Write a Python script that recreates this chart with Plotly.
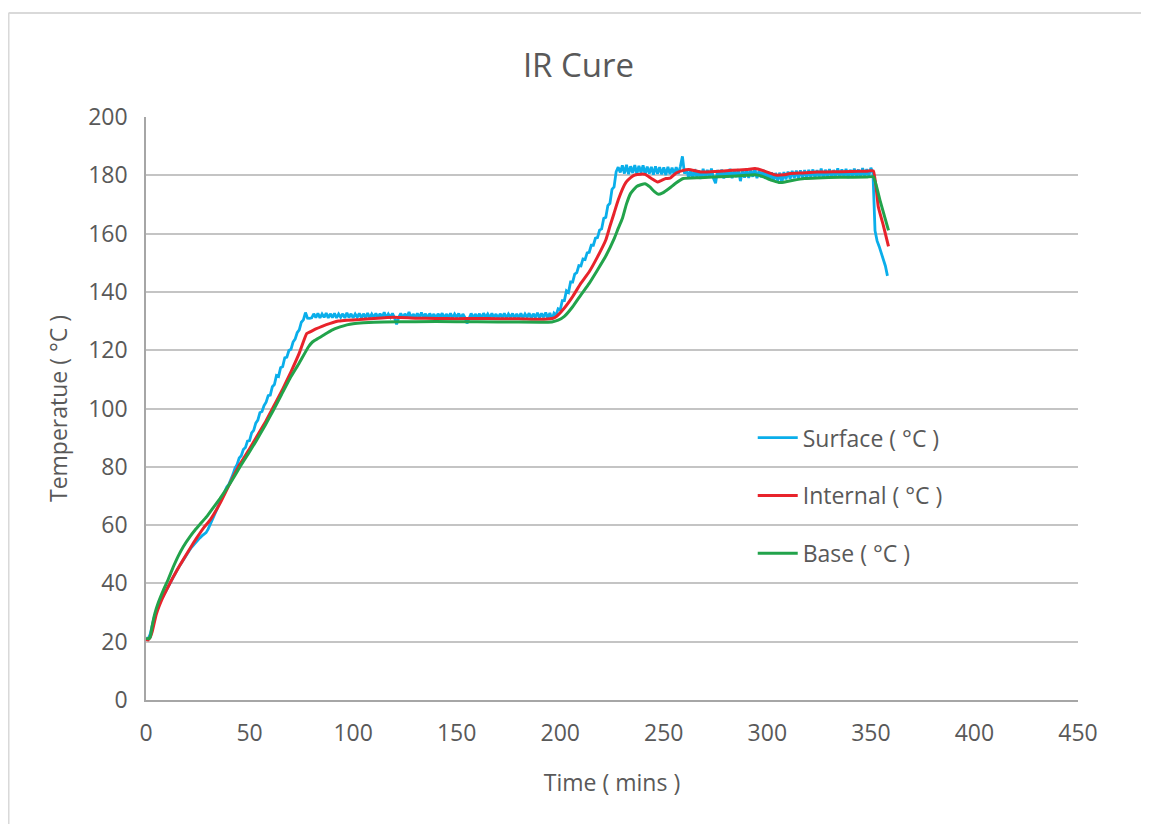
import plotly.graph_objects as go

# ---------------- data ----------------
surface_t = list(range(0, 359))
surface_v = [
    21, 21, 22.5, 26, 28.5, 30.5, 32.5, 34, 35.2, 36.6,
    38, 39.3, 40.6, 42, 43.4, 44.6, 45.8, 47, 48.2, 49.3,
    50.4, 51.4, 52.4, 53.3, 54.1, 54.9, 55.6, 56.3, 56.8, 57.4,
    58.6, 60.2, 61.8, 63.5, 65.2, 66.9, 68.5, 70.1, 71.6, 73.1,
    74, 75.6, 77.4, 79.6, 80.8, 83.0, 83.8, 85.9, 86.6, 88.8,
    89.0, 91.6, 92.5, 95.0, 96.0, 98.6, 99.0, 101.0, 102.2, 104.4,
    104.6, 107.5, 108.2, 111.3, 111.0, 114.0, 114.4, 117.4, 117.6, 119.9,
    120.3, 122.8, 123.8, 126.0, 127.0, 129.6, 130.4, 132.9, 131.0, 130.9,
    131.1, 132.5, 131.2, 132.6, 131.1, 132.4, 131.3, 132.7, 131.1, 132.5,
    131.2, 132.6, 131.1, 132.4, 131.3, 132.5, 131.1, 132.8, 131.2, 132.5,
    131.1, 132.4, 131.3, 132.6, 131.1, 132.5, 131.2, 132.7, 131.1, 132.4,
    131.3, 132.6, 131.1, 132.5, 131.2, 133.0, 131.1, 132.4, 131.3, 132.6,
    131.1, 128.9, 131.2, 132.6, 131.1, 132.5, 131.3, 133.1, 131.0, 132.4,
    131.2, 132.6, 131.1, 132.9, 131.2, 132.5, 131.0, 132.6, 131.2, 132.4,
    131.1, 132.5, 131.3, 132.7, 131.0, 132.4, 131.2, 132.6, 131.1, 132.4,
    131.3, 132.6, 131.0, 132.4, 131.2, 129.2, 131.2, 132.6, 131.1, 132.4,
    131.2, 132.5, 131.0, 132.7, 131.3, 132.4, 131.1, 132.6, 131.2, 132.4,
    131.0, 132.5, 131.2, 132.6, 131.1, 132.4, 131.3, 132.6, 131.0, 132.5,
    131.1, 132.6, 131.1, 132.4, 131.3, 132.7, 131.0, 132.5, 131.2, 132.8,
    131.1, 132.6, 131.3, 132.9, 131.0, 132.8, 130.5, 132.7, 132.0, 134.2,
    133.8, 137.0, 137.0, 140.4, 139.8, 143.4, 143.4, 146.1, 146.6, 149.0,
    148.9, 151.3, 151.1, 153.4, 153.6, 156.0, 156.0, 158.4, 158.6, 161.2,
    161.6, 165.2, 165.6, 169.6, 170.4, 175.2, 176.0, 181.2, 182.8, 181.0,
    183.4, 180.6, 183.6, 180.4, 183.1, 180.8, 183.5, 180.5, 183.2, 180.9,
    183.4, 180.3, 183.0, 180.6, 182.9, 180.2, 183.1, 180.5, 182.8, 180.3,
    182.7, 180.1, 182.9, 180.4, 182.6, 180.2, 182.8, 180.5, 183.0, 186.5,
    180.6, 182.0, 179.2, 181.8, 178.9, 182.1, 179.3, 181.7, 178.8, 182.2,
    179.1, 181.9, 179.4, 182.3, 179.0, 177.3, 181.8, 179.2, 182.0, 178.9,
    181.7, 179.3, 182.2, 179.0, 181.9, 179.4, 182.1, 178.0, 181.8, 179.2,
    182.3, 179.1, 181.9, 179.5, 182.2, 179.0, 181.6, 179.3, 181.9, 178.8,
    181.2, 178.4, 181.0, 177.9, 180.8, 178.2, 180.9, 177.4, 181.1, 178.6,
    181.3, 178.8, 181.5, 179.0, 181.6, 178.9, 181.7, 179.2, 181.8, 179.0,
    181.9, 179.3, 182.0, 179.1, 181.8, 179.4, 182.3, 179.0, 181.9, 179.5,
    182.1, 179.2, 181.8, 179.6, 182.4, 179.3, 182.0, 179.4, 182.2, 179.1,
    181.9, 179.6, 182.3, 179.4, 182.0, 179.2, 182.5, 179.6, 182.1, 179.8,
    182.6, 180.8, 161.0, 157.5, 155.6, 153.4, 151.2, 148.9, 145.5,
]

internal_t = [0, 1, 2, 3, 5, 8, 10, 13, 16, 20, 23, 26, 28, 31, 36, 41, 45, 50,
              54, 58, 62, 66, 70, 74, 77.6, 79, 82, 85, 89, 93, 97, 103, 110,
              120, 130, 140, 150, 160, 170, 180, 190, 196, 198, 202, 206, 210,
              214, 218, 222, 224, 226, 228, 230, 232, 234, 236, 239, 241, 244,
              247, 249, 251, 253, 256, 259, 262, 268, 275, 283, 290, 294, 298,
              301, 304, 308, 311, 317, 324, 332, 340, 348, 351.2, 353.6, 356,
              358.5]
internal_v = [20.8, 20.6, 21.5, 23.5, 29.5, 35, 37.9, 42, 45.8, 50.5, 54, 57.2,
              59.2, 61.8, 67.8, 75, 80.5, 86.2, 91, 95.8, 101.2, 106.6, 112.6,
              119, 125.7, 126.2, 127.3, 128.2, 129.2, 130, 130.3, 130.5, 130.9,
              131.3, 131.0, 130.9, 130.8, 130.9, 130.8, 130.8, 130.6, 130.9,
              131.5, 134.5, 138.4, 143, 146.9, 152, 157.8, 162.5, 167, 171.5,
              175.2, 177.8, 179.2, 180.1, 180.4, 180.3, 178.9, 177.7, 178.3,
              178.9, 179, 180.8, 181.6, 182, 181.1, 181.3, 181.7, 182.0, 182.3,
              181.6, 180.8, 180.1, 180.2, 180.6, 180.8, 181.1, 181.2, 181.3,
              181.4, 181.5, 169.1, 162.8, 155.6]

base_t = [0, 1, 2, 3, 4.3, 6, 8.4, 10.5, 13.2, 15.5, 18, 21, 23.7, 26.5, 29.3,
          32.5, 35.7, 38, 40.6, 43, 45.4, 49.5, 53.4, 57.5, 61.5, 65.5, 69.5,
          74, 78.4, 80.5, 83, 85.6, 89.5, 93.7, 97, 100, 105, 115, 130, 150,
          170, 190, 196, 199, 202, 206, 210, 214, 218, 222, 226, 228, 230, 232,
          234, 236.9, 240.9, 243.3, 245.5, 247.4, 249.5, 251.4, 253.5, 255.4,
          259.4, 267.5, 280, 290, 294, 297, 300, 303, 306, 309, 312.5, 318, 324,
          335, 348, 351.2, 354.4, 358.5]
base_v = [21.2, 21.0, 21.5, 25.5, 29.7, 33.5, 37.7, 41, 45.7, 49.3, 52.6, 55.8,
          58.3, 60.6, 62.9, 66, 69.1, 71.5, 74.3, 77.1, 80, 84.6, 89.1, 94.2,
          99.4, 104.9, 110.3, 115.6, 121.1, 122.9, 124, 125.1, 126.8, 128,
          128.7, 129.1, 129.4, 129.7, 129.8, 129.8, 129.7, 129.6, 129.7, 130.3,
          131.6, 134.9, 139, 142.9, 147.5, 152.3, 158.2, 161.8, 165.2, 170.2,
          173.8, 176.2, 177.1, 176.0, 174.4, 173.5, 174, 174.9, 176.0, 177.1,
          178.9, 179.2, 179.6, 180.0, 180.2, 179.8, 178.9, 178.1, 177.5, 177.8,
          178.3, 178.9, 179.1, 179.3, 179.4, 179.5, 171.4, 161.1]

x_ticks = [0, 50, 100, 150, 200, 250, 300, 350, 400, 450]
y_ticks = [0, 20, 40, 60, 80, 100, 120, 140, 160, 180, 200]

# ---------------- figure ----------------
FONT = "Open Sans"
GREY = "#595959"

fig = go.Figure()
fig.add_trace(go.Scatter(x=surface_t, y=surface_v, mode="lines",
                         name="Surface ( °C )", legendgroup="a",
                         line=dict(color="#0aaeea", width=2.8)))
fig.add_trace(go.Scatter(x=internal_t, y=internal_v, mode="lines",
                         name="Internal ( °C )", legendgroup="b",
                         line=dict(color="#e8232b", width=3, shape="spline",
                                   smoothing=0.4)))
fig.add_trace(go.Scatter(x=base_t, y=base_v, mode="lines",
                         name="Base ( °C )", legendgroup="c",
                         line=dict(color="#22a34b", width=3, shape="spline",
                                   smoothing=0.4)))

# outer chart border (top and left, light grey)
fig.add_shape(type="line", xref="paper", yref="paper",
              x0=-0.1475, x1=1.08, y0=1.1784, y1=1.1784,
              line=dict(color="#d9d9d9", width=2))
fig.add_shape(type="line", xref="paper", yref="paper",
              x0=-0.1475, x1=-0.1475, y0=1.1784, y1=-0.22,
              line=dict(color="#d9d9d9", width=2))

fig.update_layout(
    width=1141, height=816,
    margin=dict(l=138, r=71, t=109, b=124),
    paper_bgcolor="white", plot_bgcolor="white",
    font=dict(family=FONT, size=23, color=GREY),
    title=dict(text="IR Cure", x=0.5, xref="container", xanchor="center",
               y=1 - 57 / 816, yref="container", yanchor="middle",
               font=dict(family=FONT, size=33, color=GREY)),
    showlegend=True,
    legend=dict(x=0.651, y=0.487, xanchor="left", yanchor="top",
                bgcolor="rgba(0,0,0,0)", borderwidth=0,
                traceorder="grouped", tracegroupgap=25,
                font=dict(family=FONT, size=23, color=GREY),
                itemwidth=40),
    xaxis=dict(range=[0, 450], tickvals=x_ticks, ticktext=[str(v) for v in x_ticks],
               showgrid=False, zeroline=False, showline=True,
               linecolor="#a6a6a6", linewidth=1.5, ticks="",
               ticklabelstandoff=12,
               title=dict(text="Time ( mins )", standoff=28,
                          font=dict(family=FONT, size=23, color=GREY))),
    yaxis=dict(range=[0, 200], tickvals=y_ticks, ticktext=[str(v) for v in y_ticks],
               showgrid=True, gridcolor="#c4c4c4", gridwidth=1.5,
               zeroline=False, showline=True, linecolor="#a6a6a6", linewidth=1.5,
               ticks="", ticklabelstandoff=12,
               title=dict(text="Temperatue ( °C )", standoff=14,
                          font=dict(family=FONT, size=23, color=GREY))),
)

fig.write_html("out.html")
